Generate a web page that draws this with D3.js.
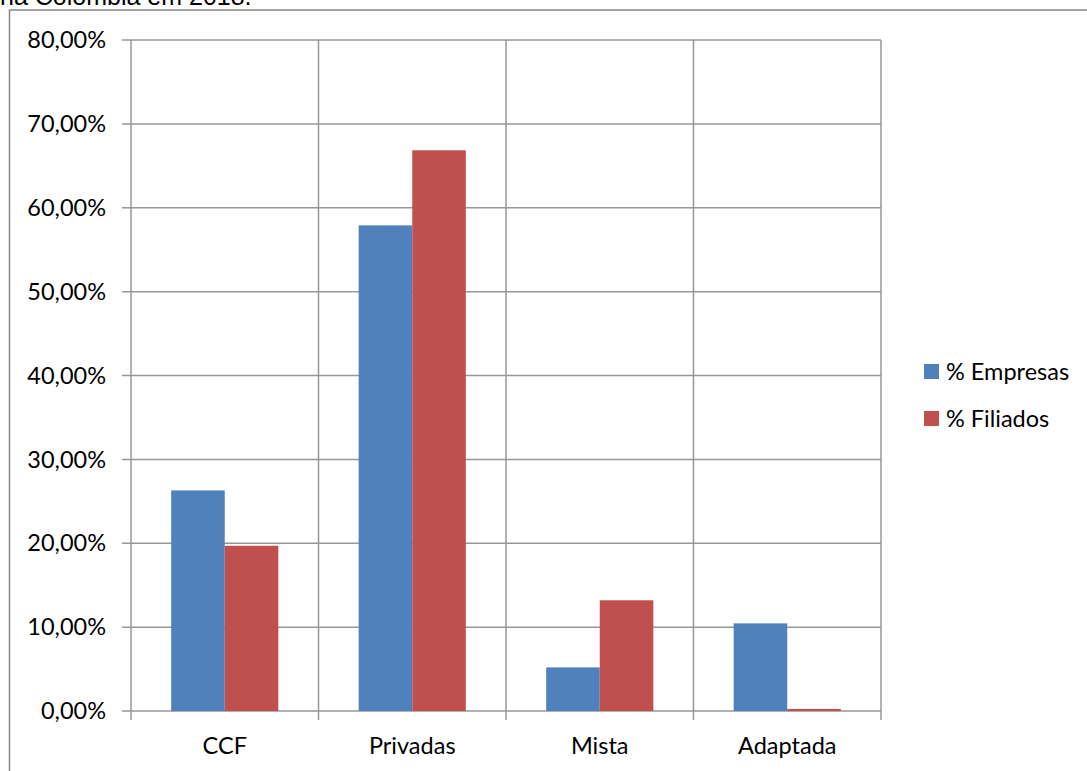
<!DOCTYPE html>
<html>
<head>
<meta charset="utf-8">
<script src="https://cdn.jsdelivr.net/npm/d3@7"></script>
<style>
  body { margin: 0; background: #fff; overflow: hidden; }
  text { font-family: Lato, "Open Sans", sans-serif; fill: #000; }
</style>
</head>
<body>
<script>
// data
const categories = ['CCF', 'Privadas', 'Mista', 'Adaptada'];
const seriesNames = ['% Empresas', '% Filiados'];
const empresas = [26.3, 57.9, 5.2, 10.45];
const filiados = [19.7, 66.85, 13.2, 0.25];
const yTicks = [0, 10, 20, 30, 40, 50, 60, 70, 80];
const colors = ['#4F81BD', '#C0504D'];

const width = 1087, height = 771;
const plot = {left: 131, right: 881, top: 40, bottom: 711};
const fontSize = '23.5px';

const svg = d3.select('body').append('svg')
  .attr('width', width)
  .attr('height', height);

// caption above the chart, cut off by the page top as in the source
svg.append('text')
  .attr('x', 0)
  .attr('y', 5)
  .style('font-family', '"Liberation Sans", Arial, sans-serif')
  .style('font-size', '25px')
  .text('na Colombia em 2018.');

// chart frame
svg.append('rect')
  .attr('x', 9.5).attr('y', 10)
  .attr('width', 1100).attr('height', 800)
  .attr('fill', 'none')
  .attr('stroke', '#868686')
  .attr('stroke-width', 1.5);

const x0 = d3.scaleBand()
  .domain(categories)
  .range([plot.left, plot.right]);

const x1 = d3.scaleBand()
  .domain(seriesNames)
  .range([0, x0.bandwidth()])
  .paddingOuter(0.75);

const y = d3.scaleLinear()
  .domain([0, 80])
  .range([plot.bottom, plot.top]);

const grid = '#979797';

// horizontal gridlines
svg.append('g').selectAll('line')
  .data(yTicks)
  .join('line')
  .attr('x1', plot.left - 9).attr('x2', plot.right)
  .attr('y1', d => y(d)).attr('y2', d => y(d))
  .attr('stroke', grid).attr('stroke-width', 1.5);

// vertical gridlines at category boundaries
const bounds = categories.map(c => x0(c)).concat([plot.right]);
svg.append('g').selectAll('line')
  .data(bounds)
  .join('line')
  .attr('x1', d => d).attr('x2', d => d)
  .attr('y1', plot.top).attr('y2', plot.bottom + 9)
  .attr('stroke', grid).attr('stroke-width', 1.5);

// y tick labels
svg.append('g').selectAll('text')
  .data(yTicks)
  .join('text')
  .attr('x', 106)
  .attr('y', d => y(d))
  .attr('dy', '0.35em')
  .attr('text-anchor', 'end')
  .style('font-size', fontSize)
  .text(d => d3.format('.2f')(d).replace('.', ',') + '%');

// x labels
svg.append('g').selectAll('text')
  .data(categories)
  .join('text')
  .attr('x', d => x0(d) + x0.bandwidth() / 2)
  .attr('y', 746)
  .attr('dy', '0.35em')
  .attr('text-anchor', 'middle')
  .style('font-size', fontSize)
  .text(d => d);

// bars
const rows = categories.map((c, i) => ({cat: c, vals: [empresas[i], filiados[i]]}));
svg.append('g').selectAll('g')
  .data(rows)
  .join('g')
  .attr('transform', d => `translate(${x0(d.cat)},0)`)
  .selectAll('rect')
  .data(d => d.vals.map((v, j) => ({name: seriesNames[j], v, j})))
  .join('rect')
  .attr('x', d => x1(d.name))
  .attr('width', x1.bandwidth())
  .attr('y', d => y(d.v))
  .attr('height', d => y(0) - y(d.v))
  .attr('fill', d => colors[d.j]);

// legend
const legend = svg.append('g').selectAll('g')
  .data(seriesNames)
  .join('g')
  .attr('transform', (d, i) => `translate(924,${364 + i * 47})`);
legend.append('rect')
  .attr('width', 15).attr('height', 15)
  .attr('fill', (d, i) => colors[i]);
legend.append('text')
  .attr('x', 22).attr('y', 7.5)
  .attr('dy', '0.35em')
  .style('font-size', fontSize)
  .text(d => d);
</script>
</body>
</html>
